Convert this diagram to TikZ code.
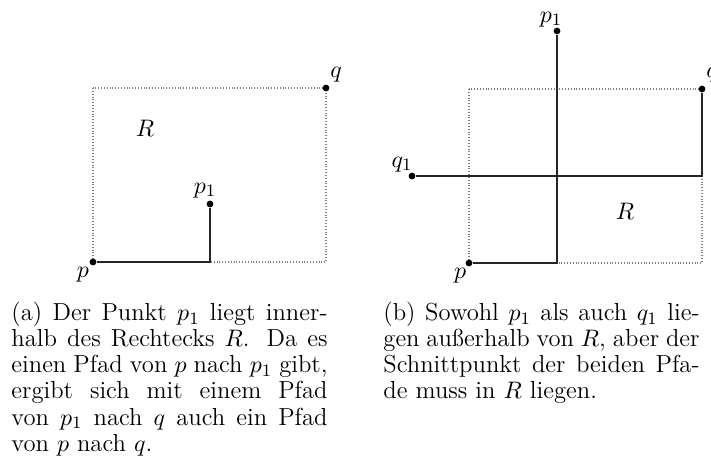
\documentclass[tikz,border=0pt]{standalone}
\usepackage{fontspec}
\begin{document}
\begin{tikzpicture}[x=0.4587pt,y=-0.4587pt,
  region/.style={draw=gray,line width=0.5pt,dash pattern=on 0.45pt off 0.85pt},
  pathline/.style={draw=black!85,line width=0.55pt},
  dotnode/.style={circle,fill=black,inner sep=0pt,minimum size=3.1pt},
  lbl/.style={anchor=base,inner sep=0pt,font=\fontsize{11.3}{12}\selectfont},
  captext/.style={anchor=north west,inner sep=0pt,align=justify,text width=145pt,font=\fontsize{11.3}{12}\selectfont}]
\useasboundingbox (0,0) rectangle (711,474);
% ---------- panel (a) ----------
\draw[region] (93,88) rectangle (326,262);
\node[dotnode] (pa) at (93,262) {};
\node[dotnode] (qa) at (326,88) {};
\node[dotnode] (p1a) at (210,204) {};
\coordinate (ca) at (210,262);
\draw[pathline] (pa) -- (ca) -- (p1a);
\node[lbl] (lpa) at (83,277) {$p$};
\node[lbl] (lqa) at (336,77) {$q$};
\node[lbl] (lp1a) at (205,193) {$p_1$};
\node[lbl] (lRa) at (145,136) {$R$};
\node[captext] (capa) at (11,301.5) {(a) Der Punkt $p_1$ liegt inner-\linebreak halb des Rechtecks $R$. Da es\linebreak einen Pfad von $p$ nach $p_1$ gibt,\linebreak ergibt sich mit einem Pfad\linebreak von $p_1$ nach $q$ auch ein Pfad\linebreak von $p$ nach $q$.};
% ---------- panel (b) ----------
\draw[region] (469,89) rectangle (702,263);
\node[dotnode] (pb) at (469,263) {};
\node[dotnode] (qb) at (702,89) {};
\node[dotnode] (p1b) at (557,31) {};
\node[dotnode] (q1b) at (412,176) {};
\coordinate (cb1) at (557,263);
\coordinate (cb2) at (702,176);
\draw[pathline] (pb) -- (cb1) -- (p1b);
\draw[pathline] (q1b) -- (cb2) -- (qb);
\node[lbl] (lpb) at (460,278) {$p$};
\node[lbl] (lqb) at (712,77) {$q$};
\node[lbl] (lp1b) at (551,22) {$p_1$};
\node[lbl] (lq1b) at (402,167) {$q_1$};
\node[lbl] (lRb) at (625,219) {$R$};
\node[captext] (capb) at (383,301.5) {(b) Sowohl $p_1$ als auch $q_1$ lie-\linebreak gen außerhalb von $R$, aber der\linebreak Schnittpunkt der beiden Pfa-\linebreak de muss in $R$ liegen.};
\end{tikzpicture}
\end{document}
